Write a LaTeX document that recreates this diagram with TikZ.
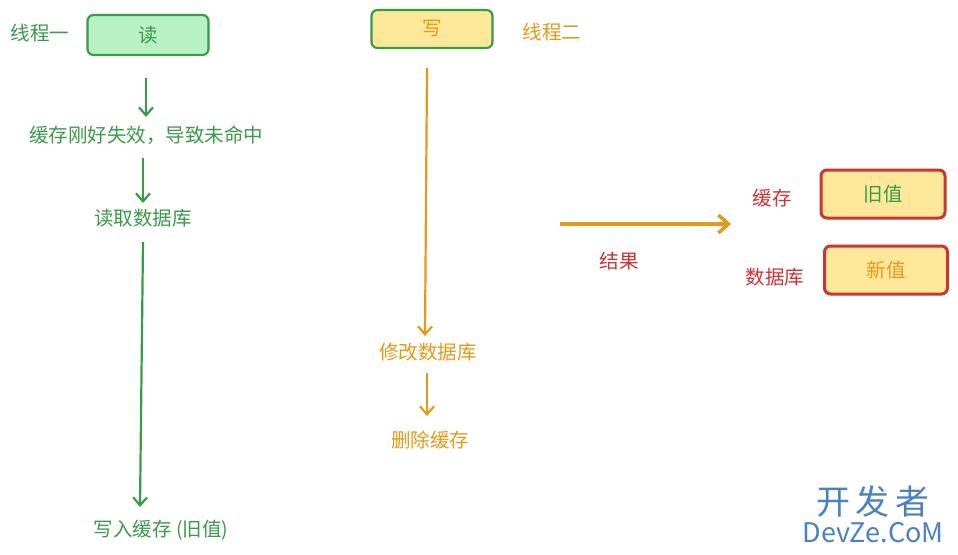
\documentclass[tikz,border=0pt]{standalone}
\usepackage{fontspec}
\setmainfont{Noto Sans CJK SC}
\definecolor{gr}{HTML}{3A9A48}
\definecolor{grf}{HTML}{B8F2C4}
\definecolor{org}{HTML}{E39A1A}
\definecolor{yel}{HTML}{FDE89A}
\definecolor{rd}{HTML}{CC3333}
\definecolor{bl}{HTML}{4A82C0}
\tikzset{
 gt/.style={text=gr,font=\fontsize{19.5}{22}\selectfont},
 ot/.style={text=org,font=\fontsize{19.5}{22}\selectfont},
 rt/.style={text=rd,font=\fontsize{19.5}{22}\selectfont},
 box/.style={rounded corners=6pt,line width=2.2pt,minimum width=121pt,minimum height=40pt,font=\fontsize{19.5}{22}\selectfont},
 ga/.style={draw=gr,line width=2.2pt,-{Straight Barb[length=8pt,width=14pt]}},
 oa/.style={draw=org,line width=2.2pt,-{Straight Barb[length=8pt,width=14pt]}},
}
\usetikzlibrary{arrows.meta}
\begin{document}
\begin{tikzpicture}[x=1pt,y=-1pt]
\useasboundingbox (0,0) rectangle (958,554);
\fill[white] (0,0) rectangle (958,554);
\node[gt] (t1) at (40,33) {线程一};
\node[box,draw=gr,fill=grf,text=gr] (r) at (148,35) {读};
\node[gt] (a) at (146,135) {缓存刚好失效，导致未命中};
\node[gt] (b) at (143,218) {读取数据库};
\node[gt] (c) at (161,530) {写入缓存 (旧值)};
\coordinate (r1) at (146,78); \coordinate (r2) at (146,117);
\coordinate (a1) at (143,158); \coordinate (a2) at (143,203);
\coordinate (b1) at (143,242); \coordinate (b2) at (140,507);
\draw[ga] (r1) -- (r2);
\draw[ga] (a1) -- (a2);
\draw[ga] (b1) -- (b2);
\node[box,draw=gr,fill=yel,text=org,minimum height=38pt] (w) at (432,29) {写};
\node[ot] (t2) at (552,32) {线程二};
\node[ot] (d) at (428,352) {修改数据库};
\node[ot] (e) at (430,440) {删除缓存};
\coordinate (w1) at (427,68); \coordinate (w2) at (425,336);
\coordinate (d1) at (427,373); \coordinate (d2) at (427,416);
\draw[oa] (w1) -- (w2);
\draw[oa] (d1) -- (d2);
\coordinate (s1) at (560,224); \coordinate (s2) at (731,224);
\draw[draw=org,line width=3.5pt,-{Straight Barb[length=10pt,width=18pt]}] (s1) -- (s2);
\node[rt] (res) at (619,261) {结果};
\node[rt] (k1) at (772,198) {缓存};
\node[box,draw=rd,fill=yel,text=gr,minimum width=124pt,minimum height=48pt,line width=3pt] (old) at (883,194) {旧值};
\node[rt] (k2) at (775,277) {数据库};
\node[box,draw=rd,fill=yel,text=org,minimum width=123pt,minimum height=48pt,line width=3pt] (new) at (886,270) {新值};
\node[text=bl,font=\fontsize{34}{36}\selectfont] (wm1) at (873,502) {开\,发\,者};
\node[text=bl,font=\fontsize{27}{29}\selectfont] (wm2) at (873,533) {DevZe.CoM};
\end{tikzpicture}
\end{document}
